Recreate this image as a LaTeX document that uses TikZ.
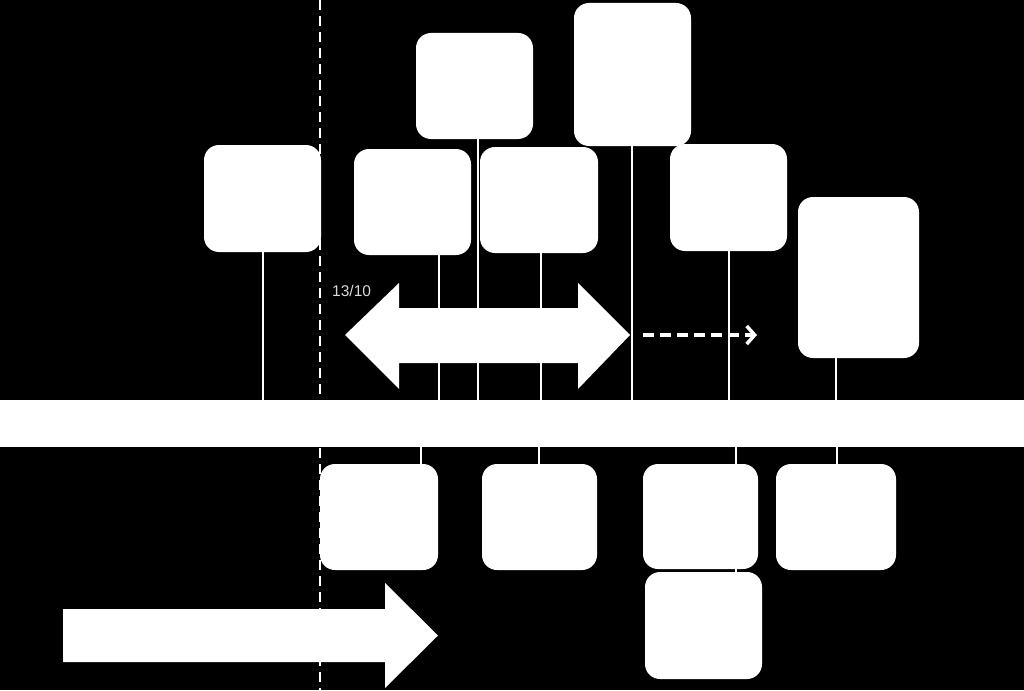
\documentclass[tikz,border=0pt]{standalone}
\usepackage{fontspec}
\setmainfont{Liberation Sans}
\usetikzlibrary{arrows.meta}
\begin{document}
\begin{tikzpicture}[x=1pt,y=-1pt,
  box/.style={fill=white,draw=none,rounded corners=15pt,inner sep=0pt},
  conn/.style={draw=white,line width=2.8pt},
  bandstyle/.style={fill=white,draw=none,inner sep=0pt,minimum width=1024pt,minimum height=47pt},
  guide/.style={draw=white,line width=2.6pt,dash pattern=on 10pt off 6pt},
  dasharrow/.style={draw=white,line width=3.5pt,dash pattern=on 11pt off 6pt,-{Straight Barb[length=8pt,width=18pt]}},
  lbl/.style={text=white!85!black,font=\fontsize{15.5}{18}\selectfont,inner sep=0pt,anchor=west}]
\useasboundingbox (0,0) rectangle (1024,690);
\fill[black] (0,0) rectangle (1024,690);
% dashed vertical guide
\coordinate (gtop) at (320,0);
\coordinate (gbot) at (320,690);
\draw[guide] (gtop) -- (gbot);
% band
\node[bandstyle] (band) at (512,423.5) {};
% boxes above
\node[box,minimum width=117pt,minimum height=107pt] (b1) at (262.5,198.5) {};
\node[box,minimum width=117pt,minimum height=106pt] (b2) at (474.5,86) {};
\node[box,minimum width=117pt,minimum height=143pt] (b3) at (632.5,74.5) {};
\node[box,minimum width=117pt,minimum height=106pt] (b4) at (412.5,202) {};
\node[box,minimum width=118pt,minimum height=106pt] (b5) at (539,200) {};
\node[box,minimum width=117pt,minimum height=107pt] (b6) at (728.5,197.5) {};
\node[box,minimum width=121pt,minimum height=161pt] (b7) at (858.5,277.5) {};
% x positions of connectors
\coordinate (x1) at (263,0);
\coordinate (x2) at (478,0);
\coordinate (x3) at (632,0);
\coordinate (x4) at (439,0);
\coordinate (x5) at (541,0);
\coordinate (x6) at (729,0);
\coordinate (x7) at (836,0);
\coordinate (x8) at (421,0);
\coordinate (x9) at (539,0);
\coordinate (x12) at (736,0);
\coordinate (x11) at (837,0);
% connectors above
\foreach \i in {1,...,7} {
  \draw[conn] (b\i.south -| x\i) -- (band.north -| x\i);
}
% boxes below
\node[box,minimum width=117pt,minimum height=107pt] (b12) at (703.5,625.5) {};
\draw[conn] (band.south -| x12) -- (b12.north -| x12);
\node[box,minimum width=118pt,minimum height=106pt] (b8) at (379,517) {};
\node[box,minimum width=115pt,minimum height=106pt] (b9) at (539.5,517) {};
\node[box,minimum width=115pt,minimum height=105pt] (b10) at (700.5,516.5) {};
\node[box,minimum width=120pt,minimum height=106pt] (b11) at (836,517) {};
\foreach \i in {8,9,11} {
  \draw[conn] (band.south -| x\i) -- (b\i.north -| x\i);
}
% double arrow
\fill[white] (345,335) -- (399,283) -- (399,308) -- (578,308) -- (578,283) -- (630,335)
  -- (578,389) -- (578,363) -- (399,363) -- (399,389) -- cycle;
% dashed arrow
\coordinate (da1) at (643,335);
\coordinate (da2) at (757,335);
\draw[dasharrow] (da1) -- (da2);
% bottom big arrow
\fill[white] (63,609) -- (385,609) -- (385,583) -- (438,635.5) -- (385,688) -- (385,662) -- (63,662) -- cycle;
% label
\node[lbl] (t1) at (332,291) {13/10};
\end{tikzpicture}
\end{document}
